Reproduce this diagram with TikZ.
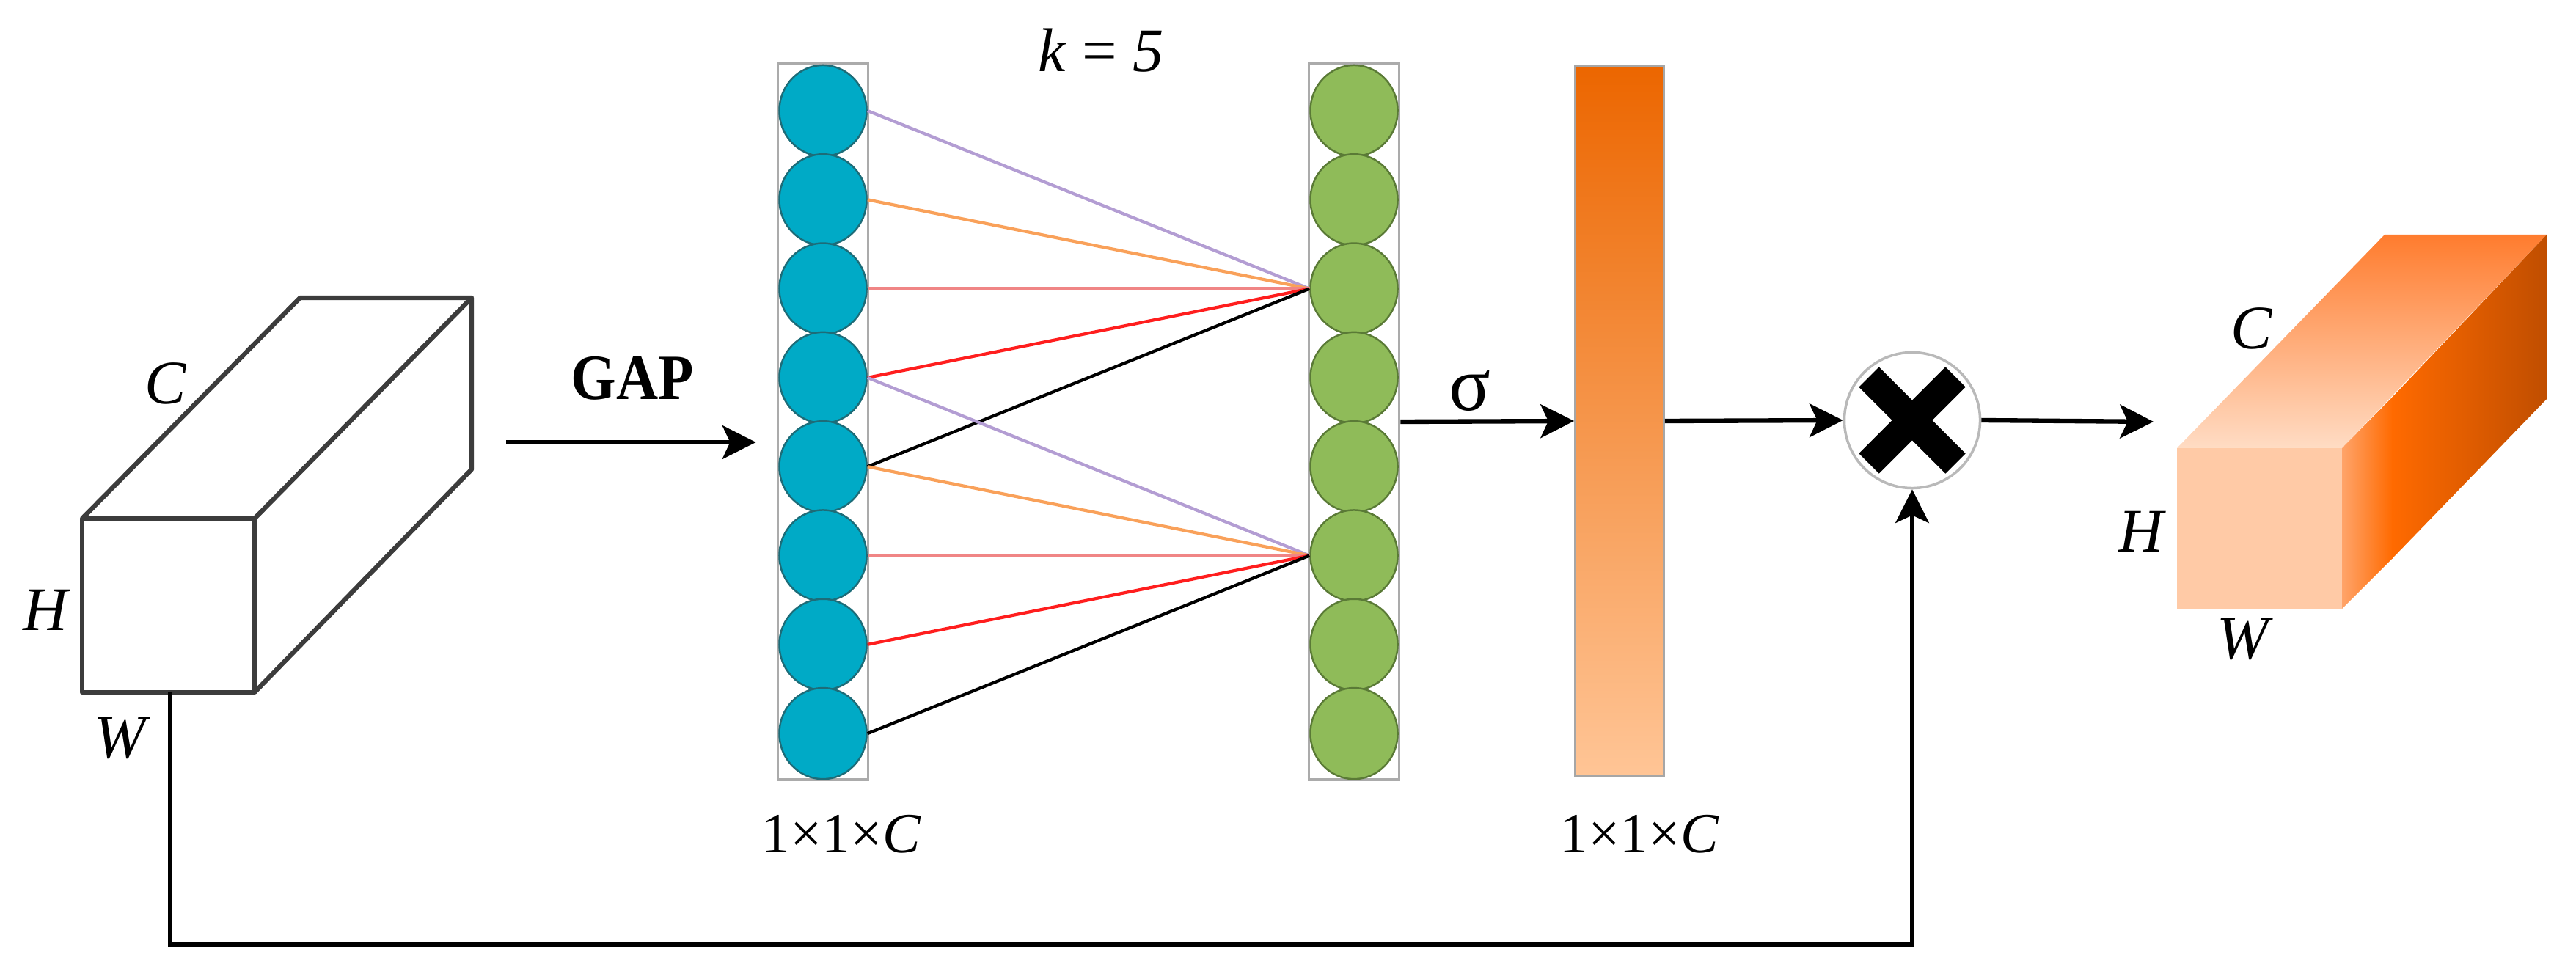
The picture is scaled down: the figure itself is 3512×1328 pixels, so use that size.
\documentclass[tikz,border=0pt]{standalone}
\usepackage{fontspec}
\setmainfont{Liberation Serif}
\usepackage{tikz}
\usetikzlibrary{positioning,arrows.meta,shapes.geometric}
\definecolor{tealdot}{HTML}{00AAC6}
\definecolor{tealedge}{HTML}{1D6C78}
\definecolor{greendot}{HTML}{8FBB59}
\definecolor{greenedge}{HTML}{5A7A36}
\definecolor{colframe}{HTML}{ABABAB}
\definecolor{edgegray}{HTML}{3C3C3C}
\definecolor{linkpurple}{HTML}{B39DD3}
\definecolor{linkorange}{HTML}{F9A15A}
\definecolor{linkpink}{HTML}{F08585}
\definecolor{linkred}{HTML}{FF1E1E}
\definecolor{bardark}{HTML}{EC6600}
\definecolor{barlight}{HTML}{FFC596}
\definecolor{boxfront}{HTML}{FFCAA6}
\definecolor{topback}{HTML}{FF7C2E}
\definecolor{topmid}{HTML}{FFA068}
\definecolor{topnear}{HTML}{FFDCC4}
\definecolor{sidenear}{HTML}{FFA46A}
\definecolor{sidemid}{HTML}{FF6A00}
\definecolor{sideback}{HTML}{C04E00}

\tikzset{
  dimlabel/.style={font=\fontsize{24}{28}\selectfont\itshape, inner sep=0pt, anchor=base},
  sizelabel/.style={font=\fontsize{22}{26}\selectfont, inner sep=0pt, anchor=base},
  column/.style={draw=colframe, line width=1pt, minimum width=1.23cm,
                 minimum height=9.75cm, inner sep=0pt},
  tealball/.style={ellipse, fill=tealdot, draw=tealedge, line width=0.7pt,
                   minimum width=1.19cm, minimum height=1.24cm, inner sep=0pt},
  greenball/.style={tealball, fill=greendot, draw=greenedge},
  link/.style={line width=1.2pt},
  flow/.style={-{Stealth[length=13pt,width=13pt,inset=3pt]}, line width=1.8pt},
  boxedge/.style={draw=edgegray, line width=1.8pt, line join=round}
}

\begin{document}
\begin{tikzpicture}[x=0.01cm, y=-0.01cm]
\useasboundingbox (0,0) rectangle (3512,1328);

% input feature map
\draw[boxedge] (112,707) rectangle (347,944);
\draw[boxedge] (112,707) -- (409,406) -- (643,406) -- (347,707);
\draw[boxedge] (643,406) -- (643,640) -- (347,944);
\coordinate (inbot) at (232,944);
\node[dimlabel] (inC) at (226,551) {C};
\node[dimlabel] (inH) at (62,859) {H};
\node[dimlabel] (inW) at (164,1033) {W};

% pooled and convolved channel vectors
\node[column] (tealcol) at (1122,575) {};
\node[column] (greencol) at (1846,575) {};
\foreach \i in {1,...,8}{
  \node[tealball] (b\i) at (1122,{151+121.3*(\i-1)}) {};
  \node[greenball] (g\i) at (1846,{151+121.3*(\i-1)}) {};
}
\foreach \s/\c in {1/linkpurple,2/linkorange,3/linkpink,4/linkred,5/black}
  \draw[link,\c] (b\s.east) -- (g3.west);
\foreach \s/\c in {4/linkpurple,5/linkorange,6/linkpink,7/linkred,8/black}
  \draw[link,\c] (b\s.east) -- (g6.west);
\node[sizelabel, font=\fontsize{24}{28}\selectfont] (kval) at (1501,98) {\textit{k} = \textit{5}};
\node[sizelabel] (tealsize) at (1147,1162) {1×1×\textit{C}};

% GAP
\coordinate (gapfrom) at (690,603);
\draw[flow, shorten >=8pt] (gapfrom) -- (gapfrom -| tealcol.west);
\node[font=\fontsize{25}{28}\selectfont\bfseries, inner sep=0pt, anchor=base, xscale=0.9]
  (gaplbl) at (862,545) {GAP};

% sigmoid weights
\node[draw=gray!70, line width=0.8pt, top color=bardark, bottom color=barlight,
      minimum width=1.21cm, minimum height=9.68cm, inner sep=0pt] (gatebar) at (2208,574) {};
\draw[flow] (greencol.east) -- (gatebar.west);
\node[font=\fontsize{30}{34}\selectfont, inner sep=0pt, anchor=base] (siglbl) at (2004,560) {σ};
\node[sizelabel] (barsize) at (2235,1162) {1×1×\textit{C}};

% channel-wise product
\node[circle, draw=gray!55, line width=1pt, fill=white, minimum size=1.85cm,
      inner sep=0pt] (mul) at (2607,573) {};
\draw[line width=11pt] (mul.center) ++(-59,-59) -- ++(118,118);
\draw[line width=11pt] (mul.center) ++(59,-59) -- ++(-118,118);
\draw[flow] (gatebar.east) -- (mul.west);
\coordinate (outtip) at (2936,575);
\draw[flow] (mul.east) -- (outtip);
\draw[flow, line width=1.5pt] (inbot) -- (inbot |- 0,1288) -| (mul.south);

% output feature map
\shade[top color=topback, middle color=topmid, bottom color=topnear]
  (2968,611) -- (3251,320) -- (3472,320) -- (3193,611) -- cycle;
\shade[left color=sidenear, right color=sidemid]
  (3193,611) -- (3262,541) -- (3262,761) -- (3193,830) -- cycle;
\shade[left color=sidemid, right color=sideback]
  (3261,542) -- (3472,320) -- (3472,544) -- (3261,762) -- cycle;
\fill[boxfront] (2968,611) rectangle (3193,830);
\node[dimlabel] (outC) at (3070,476) {C};
\node[dimlabel] (outH) at (2919,752) {H};
\node[dimlabel] (outW) at (3058,898) {W};
\end{tikzpicture}
\end{document}
